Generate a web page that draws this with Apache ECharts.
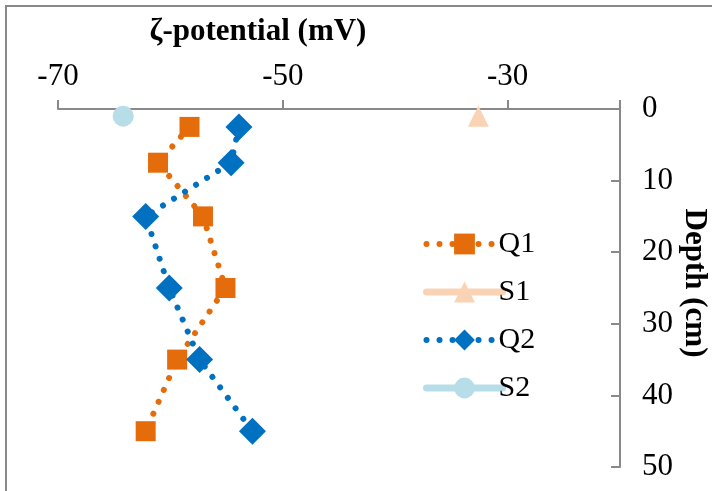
<!DOCTYPE html>
<html><head><meta charset="utf-8">
<script src="https://cdn.jsdelivr.net/npm/echarts@6/dist/echarts.min.js"></script>
<style>html,body{margin:0;padding:0;background:#fff}#c{width:712px;height:491px}</style>
</head><body><div id="c"></div>
<script>
const depthsQ = [2.5, 7.5, 15, 25, 35, 45];
const q1 = [-58.3, -61.1, -57.1, -55.1, -59.4, -62.2];
const q2 = [-53.9, -54.6, -62.2, -60.1, -57.4, -52.7];
const s1 = [[-32.6, 1]];
const s2 = [[-64.2, 1]];
const xTicks = [-70, -50, -30];
const yTicks = [0, 10, 20, 30, 40, 50];

const font = '"Liberation Serif", "Times New Roman", serif';
const dotted = {width: 6, type: [0.01, 13], cap: 'round'};
const chart = echarts.init(document.getElementById('c'));
chart.setOption({
  animation: false,
  grid: {left: 58, right: 92, top: 109, bottom: 24},
  xAxis: {
    type: 'value', position: 'top', min: -70, max: -20, interval: 20,
    axisLine: {show: true, lineStyle: {color: '#898989', width: 2}},
    axisTick: {show: true, inside: false, length: 9, lineStyle: {color: '#898989', width: 2}},
    splitLine: {show: false},
    axisLabel: {margin: 17, fontFamily: font, fontSize: 31, color: '#000',
      formatter: v => xTicks.includes(v) ? String(v) : ''}
  },
  yAxis: {
    type: 'value', position: 'right', inverse: true, min: 0, max: 50, interval: 10,
    axisLine: {show: true, lineStyle: {color: '#898989', width: 2}},
    axisTick: {show: true, inside: true, length: 9, lineStyle: {color: '#898989', width: 2}},
    splitLine: {show: false},
    axisLabel: {margin: 22, fontFamily: font, fontSize: 31, color: '#000',
      formatter: v => yTicks.includes(v) ? String(v) : ''}
  },
  legend: {
    orient: 'vertical', left: 418, top: 224, itemGap: 18, itemWidth: 76, itemHeight: 26,
    lineStyle: {width: 'inherit'},
    textStyle: {fontFamily: font, fontSize: 30, color: '#000', padding: [0, 0, 0, -9]},
    data: ['Q1', 'S1', 'Q2', 'S2']
  },
  graphic: [
    {type: 'rect', shape: {x: 6, y: 6, width: 740, height: 520}, style: {fill: 'none', stroke: '#898989', lineWidth: 2}, silent: true},
    {type: 'text', x: 258, y: 32,
      style: {text: 'ζ-potential (mV)', font: 'bold 31px "Liberation Serif"', fill: '#000', align: 'center', verticalAlign: 'middle'}},
    {type: 'text', x: 694, y: 283, rotation: -Math.PI / 2,
      style: {text: 'Depth (cm)', font: 'bold 31px "Liberation Serif"', fill: '#000', align: 'center', verticalAlign: 'middle'}}
  ],
  series: [
    {name: 'Q1', type: 'line', data: q1.map((v, i) => [v, depthsQ[i]]), symbol: 'rect', symbolSize: 20,
      itemStyle: {color: '#E46C0A'}, lineStyle: Object.assign({color: '#E46C0A'}, dotted)},
    {name: 'S1', type: 'line', data: s1, symbol: 'triangle', symbolSize: 21,
      itemStyle: {color: '#FAD3B4'}, lineStyle: {color: '#FAD3B4', width: 7, cap: 'round'}},
    {name: 'Q2', type: 'line', data: q2.map((v, i) => [v, depthsQ[i]]), symbol: 'diamond', symbolSize: 27,
      itemStyle: {color: '#0070C0'}, lineStyle: Object.assign({color: '#0070C0'}, dotted)},
    {name: 'S2', type: 'line', data: s2, symbol: 'circle', symbolSize: 21,
      itemStyle: {color: '#B7DDE8'}, lineStyle: {color: '#B7DDE8', width: 7, cap: 'round'}}
  ]
});
</script></body></html>
